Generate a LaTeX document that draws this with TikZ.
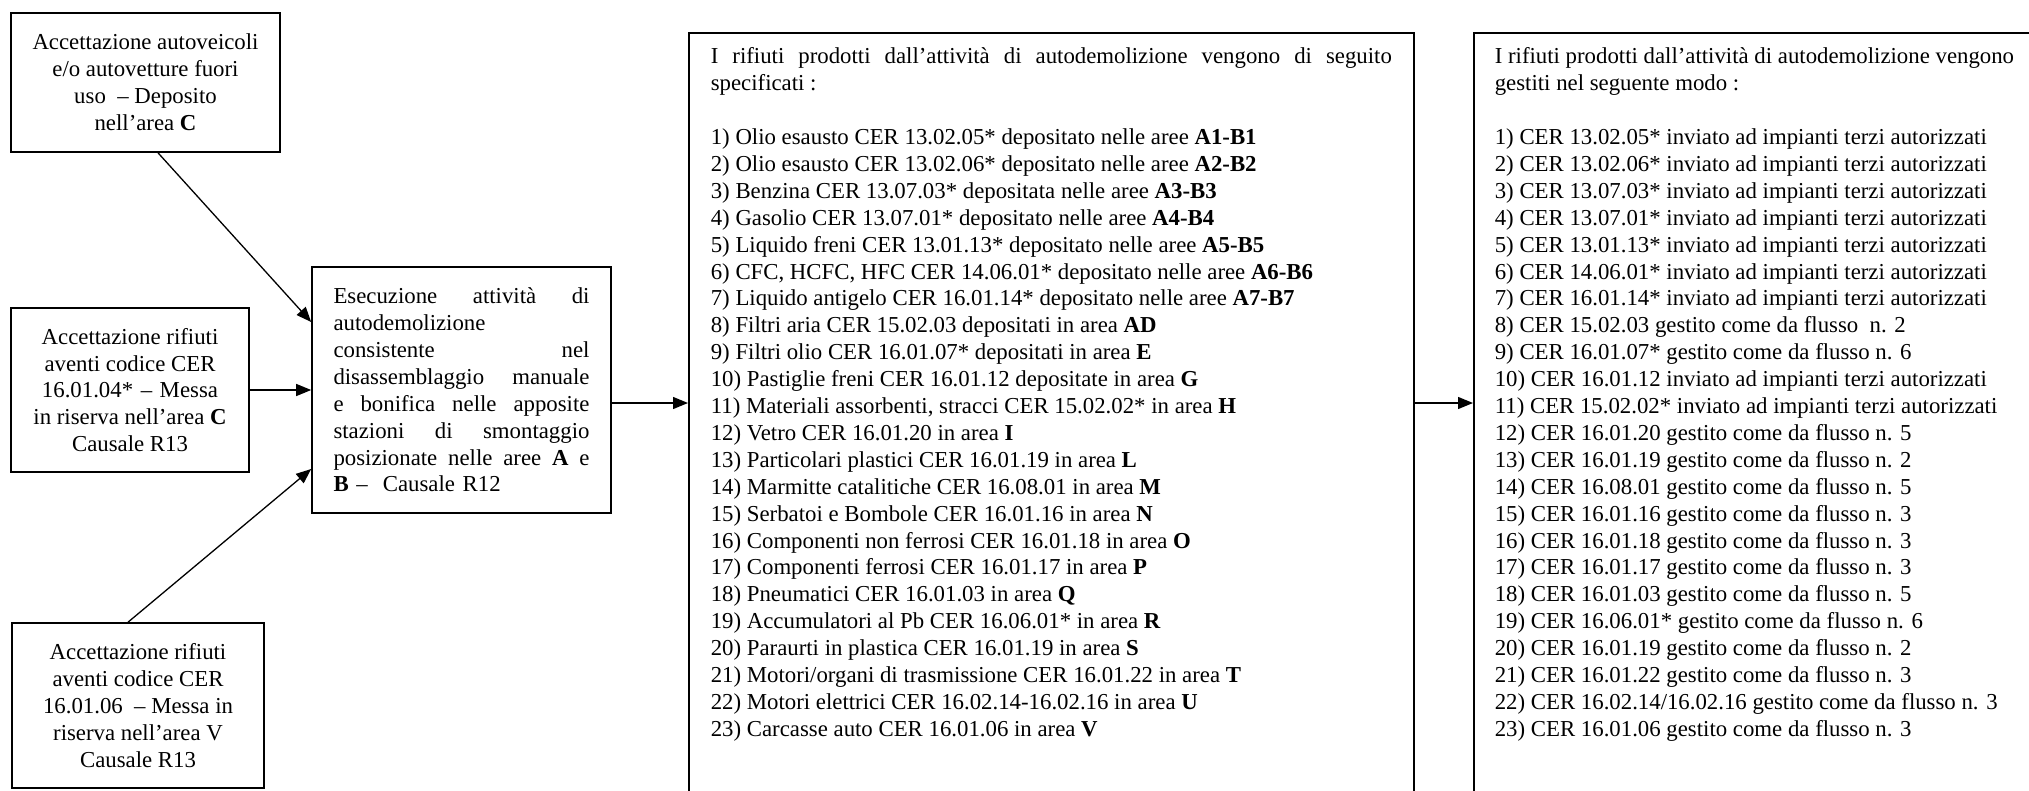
\documentclass[tikz,border=0pt]{standalone}
\usepackage{fontspec}
\setmainfont{Liberation Serif}
\usetikzlibrary{arrows.meta}
\newcommand{\spreadline}[1]{\makebox[256bp][l]{#1}}
\begin{document}
\begin{tikzpicture}[x=1bp,y=-1bp,
  box/.style={draw,line width=1.6bp,inner sep=0pt,font=\fontsize{22.8bp}{26.9bp}\selectfont},
  flow/.style={line width=1.3bp,-{Triangle[length=15bp,width=12bp]}}]
\useasboundingbox (0,0) rectangle (2029,791);
\clip (0,0) rectangle (2029,791);

% left input boxes
\node[box, minimum width=269bp, minimum height=139bp, align=center] (acc1) at (145.5,82.5)
  {Accettazione autoveicoli\\ e/o autovetture fuori\\ uso\ \ – Deposito\\ nell’area \textbf{C}};
\node[box, minimum width=238bp, minimum height=164bp, align=center] (acc2) at (130,390)
  {Accettazione rifiuti\\ aventi codice CER\\ \makebox[176bp][l]{16.01.04*\hfill–\hfill Messa}\\ in riserva nell’area \textbf{C}\\ Causale R13};
\node[box, minimum width=252bp, minimum height=165bp, align=center] (acc3) at (138,705.5)
  {Accettazione rifiuti\\ aventi codice CER\\ 16.01.06\ \ – Messa in\\ riserva nell’area V\\ Causale R13};

% middle process box
\node[box, minimum width=299bp, minimum height=246bp, text width=256bp, align=left] (mid) at (461.5,390)
  {\spreadline{Esecuzione\hfill attività\hfill di}\\
   autodemolizione\\
   \spreadline{consistente\hfill nel}\\
   \spreadline{disassemblaggio\hfill manuale}\\
   \spreadline{e\hfill bonifica\hfill nelle\hfill apposite}\\
   \spreadline{stazioni\hfill di\hfill smontaggio}\\
   \spreadline{posizionate\hfill nelle\hfill aree\hfill \textbf{A}\hfill e}\\
   \textbf{B} –\ \ Causale R12};

% waste list box
\node[box, anchor=north west, inner xsep=22bp, inner ysep=15bp] (list) at (688,32)
  {\parbox[t][760bp][t]{681bp}{%
   I rifiuti prodotti dall’attività di autodemolizione vengono di seguito\linebreak
   specificati :\\[26.9bp]
   1) Olio esausto CER 13.02.05* depositato nelle aree \textbf{A1-B1}\\
   2) Olio esausto CER 13.02.06* depositato nelle aree \textbf{A2-B2}\\
   3) Benzina CER 13.07.03* depositata nelle aree \textbf{A3-B3}\\
   4) Gasolio CER 13.07.01* depositato nelle aree \textbf{A4-B4}\\
   5) Liquido freni CER 13.01.13* depositato nelle aree \textbf{A5-B5}\\
   6) CFC, HCFC, HFC CER 14.06.01* depositato nelle aree \textbf{A6-B6}\\
   7) Liquido antigelo CER 16.01.14* depositato nelle aree \textbf{A7-B7}\\
   8) Filtri aria CER 15.02.03 depositati in area \textbf{AD}\\
   9) Filtri olio CER 16.01.07* depositati in area \textbf{E}\\
   10) Pastiglie freni CER 16.01.12 depositate in area \textbf{G}\\
   11) Materiali assorbenti, stracci CER 15.02.02* in area \textbf{H}\\
   12) Vetro CER 16.01.20 in area \textbf{I}\\
   13) Particolari plastici CER 16.01.19 in area \textbf{L}\\
   14) Marmitte catalitiche CER 16.08.01 in area \textbf{M}\\
   15) Serbatoi e Bombole CER 16.01.16 in area \textbf{N}\\
   16) Componenti non ferrosi CER 16.01.18 in area \textbf{O}\\
   17) Componenti ferrosi CER 16.01.17 in area \textbf{P}\\
   18) Pneumatici CER 16.01.03 in area \textbf{Q}\\
   19) Accumulatori al Pb CER 16.06.01* in area \textbf{R}\\
   20) Paraurti in plastica CER 16.01.19 in area \textbf{S}\\
   21) Motori/organi di trasmissione CER 16.01.22 in area \textbf{T}\\
   22) Motori elettrici CER 16.02.14-16.02.16 in area \textbf{U}\\
   23) Carcasse auto CER 16.01.06 in area \textbf{V}}};

% management box
\node[box, anchor=north west, inner xsep=21bp, inner ysep=15bp] (manage) at (1473,32)
  {\parbox[t][760bp][t]{620bp}{\raggedright
   I rifiuti prodotti dall’attività di autodemolizione vengono\\
   gestiti nel seguente modo :\\[26.9bp]
   1) CER 13.02.05* inviato ad impianti terzi autorizzati\\
   2) CER 13.02.06* inviato ad impianti terzi autorizzati\\
   3) CER 13.07.03* inviato ad impianti terzi autorizzati\\
   4) CER 13.07.01* inviato ad impianti terzi autorizzati\\
   5) CER 13.01.13* inviato ad impianti terzi autorizzati\\
   6) CER 14.06.01* inviato ad impianti terzi autorizzati\\
   7) CER 16.01.14* inviato ad impianti terzi autorizzati\\
   8) CER 15.02.03 gestito come da flusso\ \ n. 2\\
   9) CER 16.01.07* gestito come da flusso n. 6\\
   10) CER 16.01.12 inviato ad impianti terzi autorizzati\\
   11) CER 15.02.02* inviato ad impianti terzi autorizzati\\
   12) CER 16.01.20 gestito come da flusso n. 5\\
   13) CER 16.01.19 gestito come da flusso n. 2\\
   14) CER 16.08.01 gestito come da flusso n. 5\\
   15) CER 16.01.16 gestito come da flusso n. 3\\
   16) CER 16.01.18 gestito come da flusso n. 3\\
   17) CER 16.01.17 gestito come da flusso n. 3\\
   18) CER 16.01.03 gestito come da flusso n. 5\\
   19) CER 16.06.01* gestito come da flusso n. 6\\
   20) CER 16.01.19 gestito come da flusso n. 2\\
   21) CER 16.01.22 gestito come da flusso n. 3\\
   22) CER 16.02.14/16.02.16 gestito come da flusso n. 3\\
   23) CER 16.01.06 gestito come da flusso n. 3}};

% connectors
\draw[flow] ([xshift=12.5bp]acc1.south) -- ([yshift=68bp]mid.west);
\draw[flow] (acc2.east) -- (acc2.east -| mid.west);
\draw[flow] ([xshift=-10bp]acc3.north) -- ([yshift=-79bp]mid.west);
\coordinate (m4) at ([yshift=-13bp]mid.east);
\draw[flow] (m4) -- (m4 -| list.west);
\draw[flow] (m4 -| list.east) -- (m4 -| manage.west);
\end{tikzpicture}
\end{document}
